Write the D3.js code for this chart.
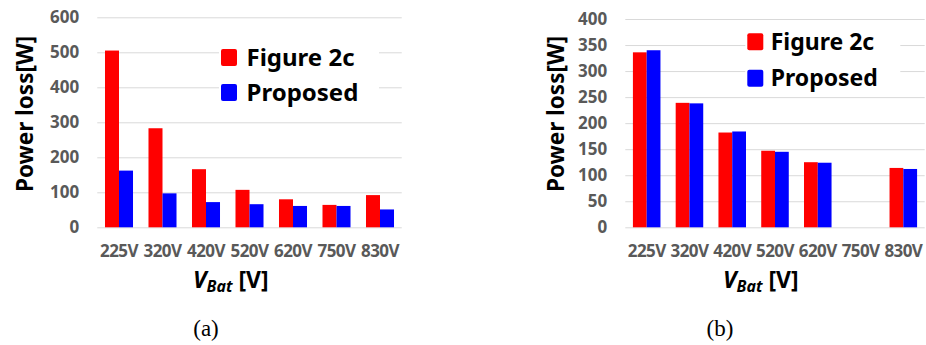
<!DOCTYPE html>
<html>
<head>
<meta charset="utf-8">
<script src="https://cdn.jsdelivr.net/npm/d3@7/dist/d3.min.js"></script>
<style>
  html, body { margin: 0; padding: 0; background: #fff; }
  svg { display: block; }
  text { font-family: "Noto Sans", "Open Sans", sans-serif; }
</style>
</head>
<body>
<svg id="chart" width="926" height="345"></svg>
<script>
// Battery voltage categories shared by both panels
const categories = ["225V", "320V", "420V", "520V", "620V", "750V", "830V"];
const seriesNames = ["Figure 2c", "Proposed"];

// Panel (a): power loss [W]
const lossA_fig2c    = [505, 283, 166, 107, 80, 64, 92];
const lossA_proposed = [162, 97, 72, 66, 61, 61, 51];

// Panel (b): power loss [W] (no measurement at 750 V)
const lossB_fig2c    = [336, 239, 182, 147, 125, null, 114];
const lossB_proposed = [340, 238, 184, 145, 124, null, 112];

const ticksA = [0, 100, 200, 300, 400, 500, 600];
const ticksB = [0, 50, 100, 150, 200, 250, 300, 350, 400];
const panelLabels = ["(a)", "(b)"];

const colors = { "Figure 2c": "#ff0000", "Proposed": "#0000ff" };
const svg = d3.select("#chart");

function drawPanel(cfg) {
  const g = svg.append("g");

  const x = d3.scaleBand()
    .domain(categories)
    .range([cfg.x0, cfg.x1])
    .paddingInner(0.356)
    .paddingOuter(0.178);

  const xs = d3.scaleBand()
    .domain(seriesNames)
    .range([0, x.bandwidth()]);

  const y = d3.scaleLinear()
    .domain([0, cfg.ymax])
    .range([cfg.yBottom, cfg.yTop]);

  // Gridlines + tick labels
  const yAxis = d3.axisLeft(y)
    .tickValues(cfg.ticks)
    .tickSize(-(cfg.x1 - cfg.x0))
    .tickPadding(18)
    .tickFormat(d3.format("d"));

  const ya = g.append("g")
    .attr("transform", `translate(${cfg.x0},0)`)
    .call(yAxis);
  ya.select(".domain").remove();
  ya.selectAll(".tick line").attr("stroke", "#d9d9d9").attr("stroke-width", 1);
  ya.selectAll(".tick text")
    .attr("fill", "#595959")
    .attr("font-size", 17)
    .attr("font-weight", "bold")
    .style("font-family", "'Noto Sans', sans-serif");

  // Category labels
  const xAxis = d3.axisBottom(x).tickSize(0).tickPadding(18);
  const xa = g.append("g")
    .attr("transform", `translate(0,${cfg.yBottom})`)
    .call(xAxis);
  xa.select(".domain").remove();
  xa.selectAll(".tick text")
    .attr("fill", "#595959")
    .attr("font-size", 17)
    .attr("font-weight", "bold")
    .attr("letter-spacing", -0.6)
    .style("font-family", "'Noto Sans', sans-serif");

  // Bars
  const rows = categories.map((c, i) => ({
    cat: c,
    vals: [
      { s: seriesNames[0], v: cfg.a[i] },
      { s: seriesNames[1], v: cfg.b[i] }
    ]
  }));

  g.append("g")
    .selectAll("g")
    .data(rows)
    .join("g")
    .attr("transform", d => `translate(${x(d.cat)},0)`)
    .selectAll("rect")
    .data(d => d.vals.filter(v => v.v != null))
    .join("rect")
    .attr("x", d => xs(d.s))
    .attr("width", xs.bandwidth())
    .attr("y", d => y(d.v))
    .attr("height", d => y(0) - y(d.v))
    .attr("fill", d => colors[d.s]);

  // Legend
  const lg = g.append("g");
  lg.append("rect")
    .attr("x", cfg.legX - 2).attr("y", cfg.legY - 12)
    .attr("width", cfg.legW).attr("height", cfg.legH)
    .attr("fill", "#fff");
  seriesNames.forEach((s, i) => {
    const yy = cfg.legY + i * cfg.legStep;
    lg.append("rect")
      .attr("x", cfg.legX).attr("y", yy)
      .attr("width", 16).attr("height", 17)
      .attr("rx", 2)
      .attr("fill", colors[s]);
    lg.append("text")
      .attr("x", cfg.legX + cfg.legTextDx)
      .attr("y", yy + 16.5)
      .attr("font-size", cfg.legFont)
      .attr("font-weight", "bold")
      .attr("fill", "#000")
      .text(s);
  });

  // Y axis title
  g.append("text")
    .attr("transform", `translate(${cfg.yTitleX},114) rotate(-90)`)
    .attr("text-anchor", "middle")
    .attr("font-size", 22.5)
    .attr("font-weight", "bold")
    .attr("fill", "#000")
    .text("Power loss[W]");

  // X axis title: V_Bat [V]
  const xt = g.append("text")
    .attr("x", cfg.xTitleX)
    .attr("y", 288)
    .attr("font-size", 23)
    .attr("font-weight", "bold")
    .attr("fill", "#000");
  xt.append("tspan").attr("font-style", "italic").text("V");
  xt.append("tspan").attr("font-style", "italic").attr("font-size", 16)
    .attr("dy", 4).text("Bat");
  xt.append("tspan").attr("dy", -4).text("\u00a0[V]");

  // Panel label
  g.append("text")
    .attr("x", cfg.labelX)
    .attr("y", 336)
    .attr("text-anchor", "middle")
    .attr("font-size", 23)
    .style("font-family", "'Liberation Serif', 'DejaVu Serif', serif")
    .attr("fill", "#000")
    .text(cfg.label);
}

drawPanel({
  a: lossA_fig2c, b: lossA_proposed,
  ymax: 600, ticks: ticksA,
  x0: 97.25, x1: 401.75, yTop: 17.3, yBottom: 227.3,
  legX: 221, legY: 49, legStep: 35, legW: 160, legH: 78,
  legTextDx: 25.5, legFont: 24,
  yTitleX: 33, xTitleX: 193, labelX: 206, label: panelLabels[0]
});

drawPanel({
  a: lossB_fig2c, b: lossB_proposed,
  ymax: 400, ticks: ticksB,
  x0: 625.3, x1: 924.7, yTop: 19, yBottom: 227.3,
  legX: 747.3, legY: 33.3, legStep: 36.5, legW: 155, legH: 70,
  legTextDx: 23.4, legFont: 23,
  yTitleX: 564, xTitleX: 723, labelX: 720, label: panelLabels[1]
});
</script>
</body>
</html>
